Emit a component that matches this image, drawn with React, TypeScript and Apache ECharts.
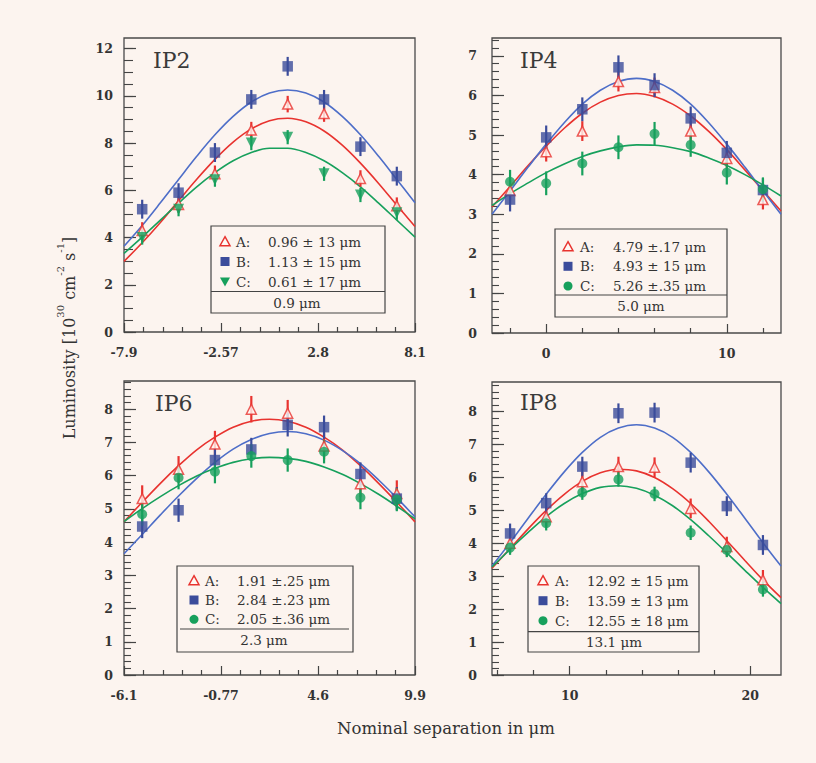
import React, { useEffect, useRef } from "react";
import * as echarts from "echarts";

// ---------------- IP2 ----------------
const ip2PointX = [-6.9, -4.9, -2.9, -0.9, 1.1, 3.1, 5.1, 7.1];
const ip2A = [4.3, 5.4, 6.7, 8.55, 9.65, 9.25, 6.5, 5.35];
const ip2B = [5.2, 5.9, 7.6, 9.85, 11.25, 9.85, 7.85, 6.6];
const ip2C = [4.0, 5.2, 6.45, 8.0, 8.25, 6.7, 5.8, 5.05];
const ip2FitX = [-7.9, -6.9, -5.9, -4.9, -3.9, -2.9, -1.9, -0.9, 0.1, 1.1, 2.1, 3.1, 4.1, 5.1, 6.1, 7.1, 8.1];
const ip2FitA = [2.99, 3.78, 4.64, 5.56, 6.47, 7.31, 8.04, 8.6, 8.95, 9.05, 8.9, 8.51, 7.91, 7.15, 6.29, 5.37, 4.47];
const ip2FitB = [3.63, 4.51, 5.47, 6.46, 7.44, 8.35, 9.13, 9.74, 10.12, 10.25, 10.12, 9.74, 9.13, 8.35, 7.44, 6.46, 5.47];
const ip2FitC = [3.33, 4.02, 4.74, 5.46, 6.15, 6.75, 7.25, 7.6, 7.78, 7.78, 7.6, 7.25, 6.75, 6.15, 5.46, 4.74, 4.02];
const ip2Errors = [0.35, 0.4, 0.3];
const ip2XTickValues = [-7.9, -2.567, 2.767, 8.1];
const ip2XTickLabels = ["-7.9", "-2.57", "2.8", "8.1"];
const ip2YTicks = [0, 2, 4, 6, 8, 10, 12];
const ip2Legend = ["0.96 ± 13 μm", "1.13 ± 15 μm", "0.61 ± 17 μm"];
const ip2Average = "0.9 μm";

// ---------------- IP4 ----------------
const ip4PointX = [-2, 0, 2, 4, 6, 8, 10, 12];
const ip4A = [3.6, 4.58, 5.1, 6.35, 6.2, 5.1, 4.41, 3.37];
const ip4B = [3.37, 4.94, 5.65, 6.71, 6.26, 5.42, 4.55, 3.61];
const ip4C = [3.82, 3.78, 4.28, 4.69, 5.03, 4.75, 4.05, 3.63];
const ip4FitX = [-3, -2, -1, 0, 1, 2, 3, 4, 5, 6, 7, 8, 9, 10, 11, 12, 13];
const ip4FitA = [3.18, 3.7, 4.23, 4.72, 5.17, 5.55, 5.83, 6.0, 6.05, 5.97, 5.78, 5.48, 5.09, 4.63, 4.12, 3.6, 3.08];
const ip4FitB = [3.0, 3.59, 4.19, 4.77, 5.31, 5.78, 6.13, 6.35, 6.43, 6.35, 6.13, 5.78, 5.31, 4.77, 4.19, 3.59, 3.0];
const ip4FitC = [3.22, 3.52, 3.79, 4.05, 4.27, 4.46, 4.6, 4.7, 4.75, 4.74, 4.68, 4.58, 4.42, 4.23, 4.0, 3.74, 3.46];
const ip4Errors = [0.25, 0.3, 0.3];
const ip4XTickValues = [0, 10];
const ip4XTickLabels = ["0", "10"];
const ip4YTicks = [0, 1, 2, 3, 4, 5, 6, 7];
const ip4Legend = ["4.79 ±.17 μm", "4.93 ± 15 μm", "5.26 ±.35 μm"];
const ip4Average = "5.0 μm";

// ---------------- IP6 ----------------
const ip6PointX = [-5.1, -3.1, -1.1, 0.9, 2.9, 4.9, 6.9, 8.9];
const ip6A = [5.31, 6.19, 6.95, 8.0, 7.88, 6.89, 5.76, 5.46];
const ip6B = [4.47, 4.96, 6.47, 6.79, 7.53, 7.46, 6.05, 5.31];
const ip6C = [4.84, 5.94, 6.12, 6.59, 6.47, 6.72, 5.34, 5.28];
const ip6FitX = [-6.1, -5.1, -4.1, -3.1, -2.1, -1.1, -0.1, 0.9, 1.9, 2.9, 3.9, 4.9, 5.9, 6.9, 7.9, 8.9, 9.9];
const ip6FitA = [4.61, 5.2, 5.77, 6.3, 6.78, 7.16, 7.46, 7.64, 7.7, 7.64, 7.46, 7.16, 6.78, 6.3, 5.77, 5.2, 4.61];
const ip6FitB = [3.65, 4.23, 4.82, 5.39, 5.92, 6.4, 6.8, 7.09, 7.27, 7.33, 7.26, 7.07, 6.76, 6.36, 5.87, 5.33, 4.76];
const ip6FitC = [4.62, 5.01, 5.37, 5.7, 5.99, 6.22, 6.4, 6.51, 6.55, 6.52, 6.43, 6.26, 6.04, 5.76, 5.44, 5.08, 4.7];
const ip6Errors = [0.4, 0.35, 0.35];
const ip6XTickValues = [-6.1, -0.767, 4.567, 9.9];
const ip6XTickLabels = ["-6.1", "-0.77", "4.6", "9.9"];
const ip6YTicks = [0, 1, 2, 3, 4, 5, 6, 7, 8];
const ip6Legend = ["1.91 ±.25 μm", "2.84 ±.23 μm", "2.05 ±.36 μm"];
const ip6Average = "2.3 μm";

// ---------------- IP8 ----------------
const ip8PointX = [6.7, 8.7, 10.7, 12.7, 14.7, 16.7, 18.7, 20.7];
const ip8A = [4.0, 4.81, 5.87, 6.33, 6.31, 5.06, 3.9, 2.89];
const ip8B = [4.3, 5.22, 6.33, 7.95, 7.97, 6.45, 5.13, 3.95];
const ip8C = [3.87, 4.61, 5.54, 5.94, 5.5, 4.32, 3.8, 2.6];
const ip8FitX = [5.7, 6.7, 7.7, 8.7, 9.7, 10.7, 11.7, 12.7, 13.7, 14.7, 15.7, 16.7, 17.7, 18.7, 19.7, 20.7, 21.7];
const ip8FitA = [3.24, 3.84, 4.44, 5.0, 5.49, 5.88, 6.14, 6.25, 6.2, 6.0, 5.66, 5.21, 4.67, 4.08, 3.48, 2.89, 2.35];
const ip8FitB = [3.31, 4.02, 4.76, 5.49, 6.17, 6.76, 7.22, 7.5, 7.6, 7.5, 7.22, 6.76, 6.17, 5.49, 4.76, 4.02, 3.31];
const ip8FitC = [3.28, 3.82, 4.33, 4.81, 5.21, 5.51, 5.7, 5.75, 5.67, 5.46, 5.14, 4.72, 4.23, 3.71, 3.18, 2.66, 2.17];
const ip8Errors = [0.3, 0.3, 0.22];
const ip8XTickValues = [10, 20];
const ip8XTickLabels = ["10", "20"];
const ip8YTicks = [0, 1, 2, 3, 4, 5, 6, 7, 8];
const ip8Legend = ["12.92 ± 15 μm", "13.59 ± 13 μm", "12.55 ± 18 μm"];
const ip8Average = "13.1 μm";

const seriesNames = ["A:", "B:", "C:"];

const FONT = "'DejaVu Serif', 'Liberation Serif', serif";
const BG = "#fcf4ef";
const RED = "#e8332f";
const BLUE_M = "#3b4c9b";
const BLUE_L = "#4e6ec8";
const GREEN = "#17a05c";
const INK = "#333333";

function steps(start: number, end: number, step: number): number[] {
  const out: number[] = [];
  for (let v = start; v <= end + 1e-9; v += step) out.push(Math.round(v * 1000) / 1000);
  return out;
}
function subdivide(majors: number[], n: number): number[] {
  const out: number[] = [];
  for (let i = 0; i < majors.length - 1; i++) {
    const a = majors[i];
    const b = majors[i + 1];
    for (let k = 1; k < n; k++) out.push(a + ((b - a) * k) / n);
  }
  return out;
}

type Panel = {
  title: string;
  grid: { left: number; top: number; width: number; height: number };
  xMin: number;
  xMax: number;
  xTicks: number[];
  xLabels: string[];
  xMinor: number[];
  yMax: number;
  yTicks: number[];
  yMinor: number[];
  yLabelMargin: number;
  yMajorLen: number;
  yMinorLen: number;
  px: number[];
  pts: number[][];
  fx: number[];
  fits: number[][];
  errs: number[];
  legend: string[];
  avg: string;
  cTri: boolean;
  box: { x: number; y: number; w: number; h: number; div: number; divX1: number; divX2: number };
  rows: number[];
  markX: number;
  letterX: number;
  valueX: number;
  avgX: number;
  avgY: number;
  titleX: number;
  titleY: number;
};

const panels: Panel[] = [
  {
    title: "IP2",
    grid: { left: 124, top: 38, width: 291, height: 294 },
    xMin: -7.9,
    xMax: 8.1,
    xTicks: ip2XTickValues,
    xLabels: ip2XTickLabels,
    xMinor: subdivide(ip2XTickValues, 5),
    yMax: 12.45,
    yTicks: ip2YTicks,
    yMinor: steps(0, 12.45, 0.5),
    yLabelMargin: 11,
    yMajorLen: 12,
    yMinorLen: 9,
    px: ip2PointX,
    pts: [ip2A, ip2B, ip2C],
    fx: ip2FitX,
    fits: [ip2FitA, ip2FitB, ip2FitC],
    errs: ip2Errors,
    legend: ip2Legend,
    avg: ip2Average,
    cTri: true,
    box: { x: 211, y: 226, w: 174, h: 87, div: 291.5, divX1: 211, divX2: 385 },
    rows: [241.7, 261.5, 281.5],
    markX: 225,
    letterX: 236,
    valueX: 268,
    avgX: 297,
    avgY: 302.5,
    titleX: 153,
    titleY: 60,
  },
  {
    title: "IP4",
    grid: { left: 492, top: 38, width: 289, height: 295 },
    xMin: -3,
    xMax: 13,
    xTicks: ip4XTickValues,
    xLabels: ip4XTickLabels,
    xMinor: [-2, 2, 4, 6, 8, 12],
    yMax: 7.45,
    yTicks: ip4YTicks,
    yMinor: steps(0, 7.45, 0.2),
    yLabelMargin: 15,
    yMajorLen: 12,
    yMinorLen: 7,
    px: ip4PointX,
    pts: [ip4A, ip4B, ip4C],
    fx: ip4FitX,
    fits: [ip4FitA, ip4FitB, ip4FitC],
    errs: ip4Errors,
    legend: ip4Legend,
    avg: ip4Average,
    cTri: false,
    box: { x: 555, y: 229, w: 172, h: 88, div: 295, divX1: 555, divX2: 727 },
    rows: [246.7, 266.3, 286],
    markX: 568,
    letterX: 580,
    valueX: 613,
    avgX: 641,
    avgY: 306,
    titleX: 520,
    titleY: 60,
  },
  {
    title: "IP6",
    grid: { left: 124, top: 381, width: 291, height: 294 },
    xMin: -6.1,
    xMax: 9.9,
    xTicks: ip6XTickValues,
    xLabels: ip6XTickLabels,
    xMinor: subdivide(ip6XTickValues, 5),
    yMax: 8.85,
    yTicks: ip6YTicks,
    yMinor: steps(0, 8.85, 0.2),
    yLabelMargin: 11,
    yMajorLen: 12,
    yMinorLen: 7,
    px: ip6PointX,
    pts: [ip6A, ip6B, ip6C],
    fx: ip6FitX,
    fits: [ip6FitA, ip6FitB, ip6FitC],
    errs: ip6Errors,
    legend: ip6Legend,
    avg: ip6Average,
    cTri: false,
    box: { x: 177, y: 566, w: 176, h: 86, div: 629, divX1: 180, divX2: 349 },
    rows: [580.7, 600, 619.3],
    markX: 194,
    letterX: 205,
    valueX: 237,
    avgX: 264,
    avgY: 640,
    titleX: 155,
    titleY: 403,
  },
  {
    title: "IP8",
    grid: { left: 492, top: 382, width: 289, height: 293 },
    xMin: 5.7,
    xMax: 21.7,
    xTicks: ip8XTickValues,
    xLabels: ip8XTickLabels,
    xMinor: [6, 8, 12, 14, 16, 18],
    yMax: 8.9,
    yTicks: ip8YTicks,
    yMinor: steps(0, 8.9, 0.2),
    yLabelMargin: 15,
    yMajorLen: 12,
    yMinorLen: 7,
    px: ip8PointX,
    pts: [ip8A, ip8B, ip8C],
    fx: ip8FitX,
    fits: [ip8FitA, ip8FitB, ip8FitC],
    errs: ip8Errors,
    legend: ip8Legend,
    avg: ip8Average,
    cTri: false,
    box: { x: 528, y: 566, w: 171, h: 86, div: 631.7, divX1: 528, divX2: 699 },
    rows: [580.7, 600.7, 620.7],
    markX: 543,
    letterX: 555,
    valueX: 587,
    avgX: 614,
    avgY: 641.7,
    titleX: 520,
    titleY: 402,
  },
];

const labelFont = { fontFamily: FONT, fontSize: 12.5, fontWeight: "bold" as const, color: INK };

function txt(x: number, y: number, text: string, size: number, align: string, extra: any = {}) {
  return {
    type: "text",
    x,
    y,
    z: 12,
    style: {
      text,
      fontFamily: FONT,
      fontSize: size,
      fill: INK,
      align,
      verticalAlign: "middle",
      textAlign: align,
      textVerticalAlign: "middle",
      ...extra,
    },
  };
}

function buildOption() {
  const grid: any[] = [];
  const xAxis: any[] = [];
  const yAxis: any[] = [];
  const series: any[] = [];
  const graphic: any[] = [];

  panels.forEach((p, i) => {
    grid.push({
      ...p.grid,
      show: true,
      borderColor: "#4a4a4a",
      borderWidth: 1.3,
      backgroundColor: "transparent",
    });
    const nearestLabel = (v: number) => {
      let best = 0;
      p.xTicks.forEach((t, k) => {
        if (Math.abs(t - v) < Math.abs(p.xTicks[best] - v)) best = k;
      });
      return p.xLabels[best];
    };
    xAxis.push({
      type: "value",
      gridIndex: i,
      position: "bottom",
      min: p.xMin,
      max: p.xMax,
      axisLine: { show: false, onZero: false },
      splitLine: { show: false },
      axisTick: {
        show: true,
        inside: true,
        length: 9,
        customValues: p.xTicks,
        lineStyle: { color: "#444", width: 1.2 },
      },
      axisLabel: {
        show: true,
        customValues: p.xTicks,
        margin: 14,
        formatter: (v: number) => nearestLabel(v),
        ...labelFont,
      },
    });
    xAxis.push({
      type: "value",
      gridIndex: i,
      position: "bottom",
      min: p.xMin,
      max: p.xMax,
      axisLine: { show: false, onZero: false },
      splitLine: { show: false },
      axisTick: {
        show: true,
        inside: true,
        length: 5,
        customValues: p.xMinor,
        lineStyle: { color: "#444", width: 1.2 },
      },
      axisLabel: { show: false },
    });
    yAxis.push({
      type: "value",
      gridIndex: i,
      position: "left",
      min: 0,
      max: p.yMax,
      axisLine: { show: false, onZero: false },
      splitLine: { show: false },
      axisTick: {
        show: true,
        inside: true,
        length: p.yMajorLen,
        customValues: p.yTicks,
        lineStyle: { color: "#444", width: 1.2 },
      },
      axisLabel: {
        show: true,
        customValues: p.yTicks,
        margin: p.yLabelMargin,
        formatter: (v: number) => String(Math.round(v)),
        ...labelFont,
      },
    });
    yAxis.push({
      type: "value",
      gridIndex: i,
      position: "left",
      min: 0,
      max: p.yMax,
      axisLine: { show: false, onZero: false },
      splitLine: { show: false },
      axisTick: {
        show: true,
        inside: true,
        length: p.yMinorLen,
        customValues: p.yMinor,
        lineStyle: { color: "#444", width: 1.1 },
      },
      axisLabel: { show: false },
    });

    const xi = 2 * i;
    const yi = 2 * i;
    const fitColors = [RED, BLUE_L, GREEN];
    const markColors = [RED, BLUE_M, GREEN];

    p.fits.forEach((fit, k) => {
      series.push({
        type: "line",
        xAxisIndex: xi,
        yAxisIndex: yi,
        data: p.fx.map((x, j) => [x, fit[j]]),
        smooth: 0.35,
        showSymbol: false,
        symbol: "none",
        lineStyle: { color: fitColors[k], width: 1.6 },
        z: 2,
        silent: true,
      });
    });

    p.pts.forEach((vals, k) => {
      const color = markColors[k];
      series.push({
        type: "custom",
        xAxisIndex: xi,
        yAxisIndex: yi,
        data: p.px.map((x, j) => [x, vals[j], p.errs[k]]),
        encode: { x: 0, y: 1 },
        z: 3,
        silent: true,
        renderItem: (_params: any, api: any) => {
          const x = api.value(0);
          const y = api.value(1);
          const e = api.value(2);
          const lo = api.coord([x, y - e]);
          const hi = api.coord([x, y + e]);
          return {
            type: "line",
            shape: { x1: lo[0], y1: lo[1], x2: hi[0], y2: hi[1] },
            style: { stroke: color, lineWidth: 2.2 },
          };
        },
      });
    });

    p.pts.forEach((vals, k) => {
      const base: any = {
        type: "scatter",
        xAxisIndex: xi,
        yAxisIndex: yi,
        data: p.px.map((x, j) => [x, vals[j]]),
        z: 4,
        silent: true,
      };
      if (k === 0) {
        base.symbol = "triangle";
        base.symbolSize = 10;
        base.itemStyle = { color: "#fff8f4", borderColor: RED, borderWidth: 1.5 };
      } else if (k === 1) {
        base.symbol = "rect";
        base.symbolSize = 10.5;
        base.itemStyle = { color: BLUE_M };
      } else {
        if (p.cTri) {
          base.symbol = "triangle";
          base.symbolRotate = 180;
          base.symbolSize = 11;
        } else {
          base.symbol = "circle";
          base.symbolSize = 10;
        }
        base.itemStyle = { color: GREEN };
      }
      series.push(base);
    });

    graphic.push({ ...txt(p.titleX, p.titleY, p.title, 22, "left", { fill: "#3a3a3a" }), z: 10 });

    const b = p.box;
    graphic.push({
      type: "rect",
      shape: { x: b.x, y: b.y, width: b.w, height: b.h },
      style: { fill: BG, stroke: "#444", lineWidth: 1.2 },
      z: 10,
    });
    graphic.push({
      type: "line",
      shape: { x1: b.divX1, y1: b.div, x2: b.divX2, y2: b.div },
      style: { stroke: "#444", lineWidth: 1.2 },
      z: 11,
    });
    p.rows.forEach((ry, k) => {
      const mx = p.markX;
      if (k === 0) {
        graphic.push({
          type: "polygon",
          shape: { points: [[mx, ry - 5], [mx + 5, ry + 4], [mx - 5, ry + 4]] },
          style: { fill: "#fff8f4", stroke: RED, lineWidth: 1.5 },
          z: 12,
        });
      } else if (k === 1) {
        graphic.push({
          type: "rect",
          shape: { x: mx - 4.5, y: ry - 4.5, width: 9, height: 9 },
          style: { fill: BLUE_M },
          z: 12,
        });
      } else if (p.cTri) {
        graphic.push({
          type: "polygon",
          shape: { points: [[mx - 5, ry - 4], [mx + 5, ry - 4], [mx, ry + 5]] },
          style: { fill: GREEN },
          z: 12,
        });
      } else {
        graphic.push({
          type: "circle",
          shape: { cx: mx, cy: ry, r: 4.5 },
          style: { fill: GREEN },
          z: 12,
        });
      }
      graphic.push(txt(p.letterX, ry, seriesNames[k], 13.5, "left"));
      graphic.push(txt(p.valueX, ry, p.legend[k], 13.5, "left"));
    });
    graphic.push(txt(p.avgX, p.avgY, p.avg, 13.5, "center"));
  });

  graphic.push({ ...txt(446, 728, "Nominal separation in μm", 16.5, "center"), z: 10 });
  graphic.push({
    type: "text",
    x: 66,
    y: 338,
    rotation: Math.PI / 2,
    z: 10,
    style: {
      text: "{a|Luminosity [10}{s|30}{a| cm}{s|-2}{a| s}{s|-1}{a|]}",
      align: "center",
      verticalAlign: "middle",
      textAlign: "center",
      textVerticalAlign: "middle",
      rich: {
        a: { fontFamily: FONT, fontSize: 16, fill: INK, lineHeight: 22, verticalAlign: "bottom" },
        s: { fontFamily: FONT, fontSize: 10, fill: INK, lineHeight: 22, verticalAlign: "top" },
      },
    },
  });

  return {
    animation: false,
    backgroundColor: BG,
    grid,
    xAxis,
    yAxis,
    series,
    graphic,
  };
}

export default function App() {
  const ref = useRef<HTMLDivElement>(null);
  useEffect(() => {
    if (!ref.current) return;
    document.body.style.margin = "0";
    document.body.style.background = BG;
    const chart = echarts.init(ref.current, undefined, { renderer: "svg" });
    chart.setOption(buildOption() as any);
    return () => chart.dispose();
  }, []);
  return (
    <div
      ref={ref}
      style={{ position: "fixed", left: 0, top: 0, width: 816, height: 763, background: BG }}
    />
  );
}
